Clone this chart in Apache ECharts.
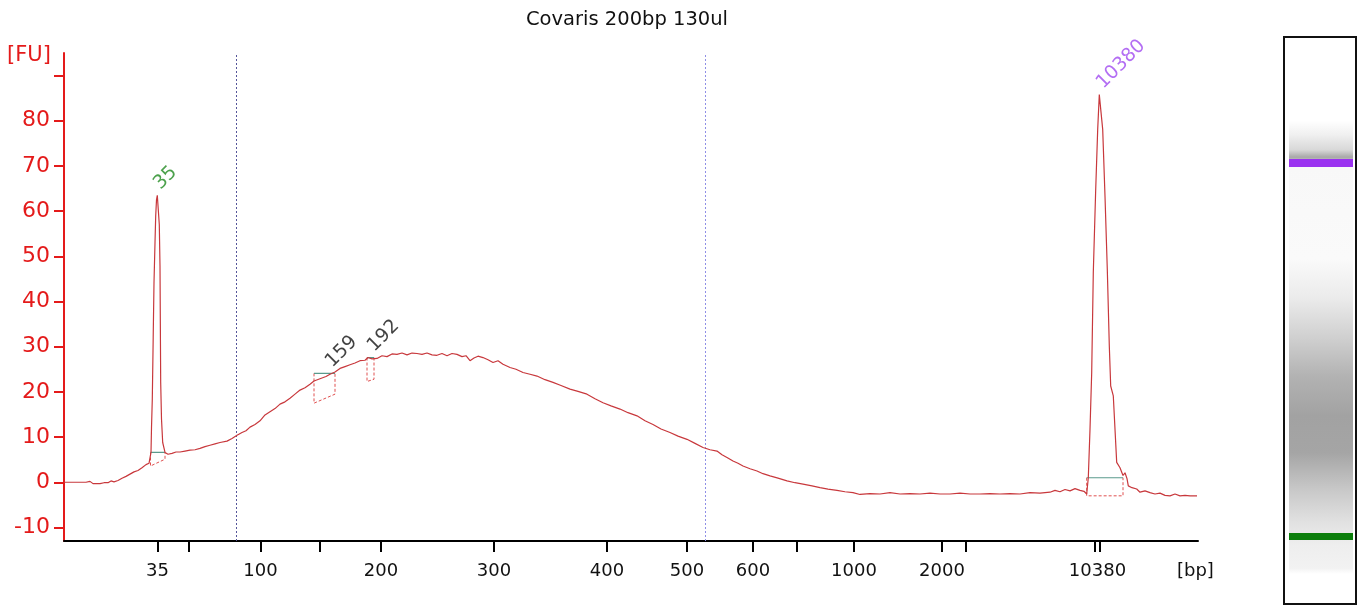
<!DOCTYPE html>
<html>
<head>
<meta charset="utf-8">
<script src="https://cdn.jsdelivr.net/npm/echarts@6/dist/echarts.min.js"></script>
<style>
html,body{margin:0;padding:0;background:#fff;}
#chart{width:1361px;height:609px;}
</style>
</head>
<body>
<div id="chart"></div>
<script>
// migration position (scan units) and fluorescence [FU]
const scanPos = [0,6,16,22,24,26,29,36,40,44,47,50,54,58,62,66,70,74,78,82,85,86.5,87,87.5,88.3,89.2,90,91,91.7,92.5,93.3,94.5,95.3,96,96.7,97.5,98.7,101,104,108,112,116,121,126,131,136,141,146,151,156,163,168,173,178,182,186,191,196,201,206,211,216,221,226,231,236,241,246,250,256,262,266,271,276,281,286,291,296,301,304,308,313,318,323,328,333,338,343,348,353,358,363,368,373,378,383,388,393,398,402,406,410,414,419,424,429,434,439,446,452,459,466,473,481,489,497,506,514,523,531,539,547,556,564,573,581,589,597,606,614,623,631,639,646,653,658,663,669,674,679,686,693,699,706,714,723,731,739,748,756,764,773,781,789,796,806,816,826,836,846,856,866,876,886,896,906,916,926,936,946,956,966,976,986,991,996,1001,1006,1011,1016,1020,1022.7,1024.3,1026,1027.7,1029.3,1031.7,1033.7,1035.3,1037,1038.7,1041,1043.3,1045.3,1046.7,1049.3,1052.7,1056,1059,1061,1063,1064.3,1068,1072.7,1076,1081,1086,1091,1096,1101,1106,1111,1116,1121,1126,1133];
const fluorescence = [0,0,0,0,0.4,0.2,-0.3,-0.3,-0.1,-0.1,0.3,0.1,0.4,0.9,1.3,1.8,2.3,2.6,3.2,3.9,4.2,4.6,6.6,12,18.4,32,44.2,53,58.9,62.5,63.5,63.3,57,47.9,22,14,8.8,6.6,6.2,6.4,6.7,6.7,6.9,7.1,7.2,7.5,7.9,8.2,8.5,8.8,9.1,9.7,10.4,11.0,11.4,12.2,12.8,13.6,14.9,15.6,16.3,17.3,17.8,18.6,19.5,20.4,20.9,21.7,22.4,22.9,23.4,23.9,24.4,25.2,25.6,26.0,26.4,26.9,27.0,27.6,27.3,27.4,28.0,27.8,28.4,28.3,28.6,28.2,28.6,28.5,28.3,28.6,28.2,28.1,28.5,28.0,28.5,28.3,27.8,28.0,26.9,27.5,27.9,27.6,27.1,26.5,26.9,26.1,25.4,25.0,24.3,23.9,23.5,22.7,22.1,21.4,20.6,20.1,19.5,18.5,17.6,16.9,16.2,15.4,14.7,13.6,12.8,11.8,11.0,10.2,9.5,8.6,7.7,7.2,6.9,6.1,5.5,4.7,4.2,3.6,3.0,2.5,1.9,1.4,0.9,0.3,-0.1,-0.4,-0.8,-1.2,-1.5,-1.8,-2.1,-2.3,-2.7,-2.5,-2.6,-2.3,-2.6,-2.5,-2.6,-2.4,-2.6,-2.6,-2.4,-2.6,-2.6,-2.5,-2.6,-2.5,-2.6,-2.3,-2.4,-2.2,-1.8,-2.1,-1.6,-1.9,-1.4,-1.8,-2.0,-2.6,1.0,11.7,24.3,46.4,64.8,78.1,85.8,85.8,78.1,63.3,47.1,30.2,21.3,19.1,4.4,3.2,1.5,2.1,0.8,-0.8,-1.2,-1.5,-2.2,-1.9,-2.3,-2.6,-2.4,-2.9,-3.0,-2.6,-3.0,-2.9,-3.0,-3.0];

// x axis ticks (positions) and labels in bp
const xTickPos = [93.5,125,196.5,256,317,430,543,623,689,733,790,878,902,1031,1036];
const xLabelPos = [93.5,196.5,317,430,543,623,689,790,878,1033.5];
const xLabelText = ['35','100','200','300','400','500','600','1000','2000','10380'];
const yTickVals = [-10,0,10,20,30,40,50,60,70,80,90];
const yLabelVals = [-10,0,10,20,30,40,50,60,70,80];

// identified peaks
const peakNames = ['35','159','192','10380'];
const peakPos = [93.3,265,307,1036];
const peakHeight = [63.5,24.1,27.6,85.8];
const peakStart = [86.5,250,303,1022.7];
const peakEnd = [101,271,310,1059];
const peakLevel = [6.6,24.1,27.6,1.0];
const baseStart = [3.6,17.5,22.3,-3.0];
const baseEnd = [5.1,19.5,22.8,-3.0];

// region boundaries
const regionBounds = [172, 641];

const peakColors = ['#1f8a1f','#111111','#111111','#a04af0'];

const series = [];
series.push({
  type:'line', data: scanPos.map((x,i)=>[x,fluorescence[i]]),
  symbol:'none', lineStyle:{color:'#c8383c', width:1.2}, z:5,
  markLine:{
    silent:true, symbol:'none', label:{show:false},
    data:[
      {xAxis: regionBounds[0], lineStyle:{color:'#55559a', type:[2,2], width:1}},
      {xAxis: regionBounds[1], lineStyle:{color:'#8f8fe6', type:[2,2], width:1}}
    ]
  }
});
peakNames.forEach((n,i)=>{
  series.push({
    type:'line', symbol:'none', z:4,
    data:[[peakStart[i],peakLevel[i]],[peakEnd[i],peakLevel[i]]],
    lineStyle:{color:'#5a9a8c', width:1.2}
  });
  series.push({
    type:'line', symbol:'none', z:3,
    data:[[peakStart[i],peakLevel[i]],[peakStart[i],baseStart[i]],[peakEnd[i],baseEnd[i]],[peakEnd[i],peakLevel[i]]],
    lineStyle:{color:'#e05050', width:1, type:[3,2]}
  });
});
series.push({
  type:'scatter', symbolSize:0, z:6,
  data: peakNames.map((n,i)=>({value:[peakPos[i],peakHeight[i]], name:n,
    label:{color:peakColors[i]}})),
  label:{show:true, formatter:p=>p.name, rotate:45, position:[0,0], align:'left', verticalAlign:'bottom',
    offset:[6,3], fontFamily:'DejaVu Sans', fontSize:19}
});

const chart = echarts.init(document.getElementById('chart'), null, {renderer:'canvas'});
chart.setOption({
  animation:false,
  backgroundColor:'#ffffff',
  title:{text:'Covaris 200bp 130ul', left:622, top:5, textAlign:'center',
    textStyle:{fontFamily:'DejaVu Sans', fontSize:19.5, fontWeight:'normal', color:'#111'}},
  grid:{left:64, right:163, top:53, bottom:68, outerBoundsMode:'none', containLabel:false},
  xAxis:{
    type:'value', min:0, max:1134,
    axisLine:{show:true, onZero:false, lineStyle:{color:'#000', width:2}},
    axisTick:{show:true, customValues:xTickPos, length:11, lineStyle:{color:'#000', width:2}},
    axisLabel:{customValues:xLabelPos, margin:21, color:'#111', fontFamily:'DejaVu Sans', fontSize:18,
      formatter:v=>{const k=xLabelPos.indexOf(v); return k>=0?xLabelText[k]:'';}},
    splitLine:{show:false}
  },
  yAxis:{
    type:'value', min:-13, max:95,
    axisLine:{show:true, lineStyle:{color:'#e41a1a', width:2}},
    axisTick:{show:true, customValues:yTickVals, length:10, lineStyle:{color:'#e41a1a', width:2}},
    axisLabel:{customValues:yLabelVals, margin:14, color:'#e41a1a', fontFamily:'DejaVu Sans', fontSize:22},
    splitLine:{show:false}
  },
  graphic:[
    {type:'text', left:7, top:45, style:{text:'[FU]', fill:'#e41a1a', font:'21px "DejaVu Sans"'}},
    {type:'text', left:1177, top:562, style:{text:'[bp]', fill:'#111', font:'18px "DejaVu Sans"'}},
    {type:'rect', shape:{x:1289, y:39, width:64, height:563}, style:{
      fill:new echarts.graphic.LinearGradient(0,0,0,1,[
        {offset:0, color:'#ffffff'},{offset:0.145, color:'#ffffff'},{offset:0.17, color:'#f0f0f0'},
        {offset:0.197, color:'#d8d8d8'},{offset:0.21, color:'#a8a8a8'},{offset:0.228, color:'#f8f8f8'},
        {offset:0.39, color:'#fafafa'},{offset:0.46, color:'#ebebeb'},{offset:0.53, color:'#d0d0d0'},
        {offset:0.6, color:'#b2b2b2'},{offset:0.67, color:'#a2a2a2'},{offset:0.735, color:'#a5a5a5'},
        {offset:0.8, color:'#c8c8c8'},{offset:0.86, color:'#e2e2e2'},{offset:0.9, color:'#eeeeee'},
        {offset:0.94, color:'#f2f2f2'},{offset:0.95, color:'#ffffff'},{offset:1, color:'#ffffff'}
      ])}},
    {type:'rect', shape:{x:1289, y:159, width:64, height:8}, style:{fill:'#9a32f0'}},
    {type:'rect', shape:{x:1289, y:533, width:64, height:7}, style:{fill:'#0b7e0b'}},
    {type:'rect', shape:{x:1284, y:37, width:72, height:567}, style:{fill:null, stroke:'#111', lineWidth:2}}
  ],
  series: series
});
</script>
</body>
</html>
